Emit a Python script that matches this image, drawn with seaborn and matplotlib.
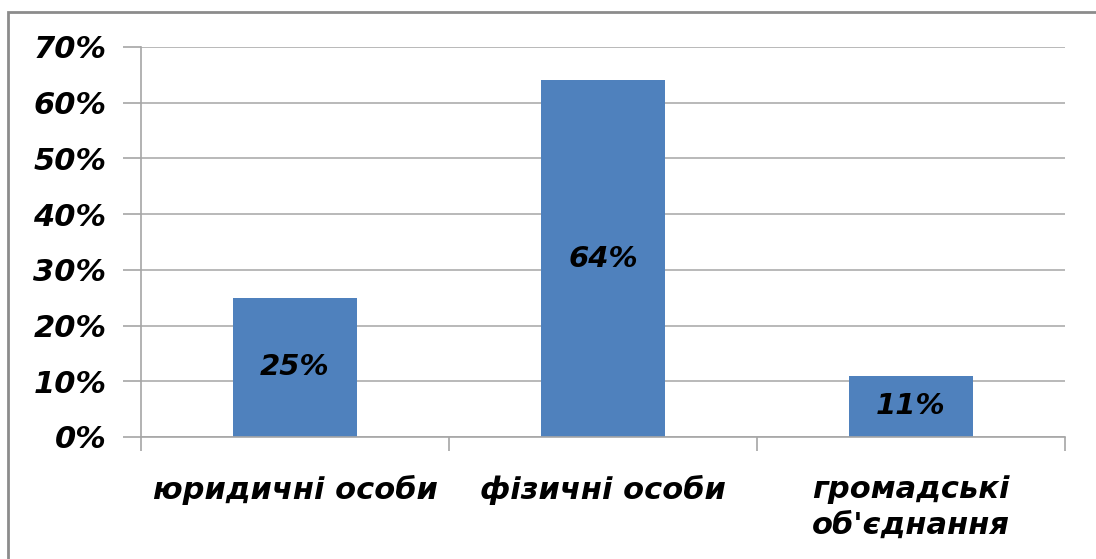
import pandas as pd
import matplotlib
matplotlib.use("Agg")
import matplotlib.pyplot as plt
import seaborn as sns
from matplotlib.ticker import PercentFormatter, MultipleLocator
from matplotlib.patches import Rectangle

# Data
categories = ["юридичні особи", "фізичні особи", "громадські\nоб'єднання"]
shares = [25, 64, 11]
bar_labels = ["25%", "64%", "11%"]

df = pd.DataFrame({"category": categories, "share": shares})

sns.set_theme(style="white")
plt.rcParams['font.family'] = ['DejaVu Sans']
plt.rcParams['text.color'] = 'black'
plt.rcParams['xtick.color'] = 'black'
plt.rcParams['ytick.color'] = 'black'

fig = plt.figure(figsize=(10.96, 5.59), dpi=100)
ax = fig.add_axes([141/1096, 122/559, 924/1096, 390/559])

# outer frame of the chart
fig.patches.append(Rectangle((8/1096, -0.05), 1.2, 1 - 12/559 + 0.05,
                             transform=fig.transFigure, fill=False,
                             edgecolor="#8c8c8c", linewidth=2))

sns.barplot(data=df, x="category", y="share", color="#4f81bd",
            saturation=1, width=0.4, ax=ax, edgecolor="none")

ax.set_ylim(0, 70)
ax.set_xlim(-0.5, 2.5)
ax.yaxis.set_major_locator(MultipleLocator(10))
ax.yaxis.set_major_formatter(PercentFormatter(decimals=0))
ax.grid(axis="y", color="#a6a6a6", linewidth=1.1)
ax.set_axisbelow(True)

for side in ["top", "right"]:
    ax.spines[side].set_visible(False)
for side in ["left", "bottom"]:
    ax.spines[side].set_color("#a6a6a6")
    ax.spines[side].set_linewidth(1.2)

# category boundaries as x ticks
ax.set_xticks([-0.5, 0.5, 1.5, 2.5], minor=False)
ax.set_xticklabels([])
ax.set_xticks(range(len(categories)), minor=True)
ax.set_xticklabels(categories, minor=True, fontsize=22, fontweight="bold",
                   fontstyle="italic", linespacing=1.3, color="black")
ax.tick_params(axis="x", which="major", length=10, width=1.2, color="#a6a6a6",
               bottom=True)
ax.tick_params(axis="x", which="minor", length=0, pad=27)
ax.tick_params(axis="y", length=13, width=1.2, color="#a6a6a6", left=True,
               labelsize=22, pad=12, labelcolor="black")
for lab in ax.get_yticklabels():
    lab.set_fontweight("bold")
    lab.set_fontstyle("italic")

ax.set_xlabel("")
ax.set_ylabel("")

for i, (v, t) in enumerate(zip(shares, bar_labels)):
    ax.text(i, v / 2, t, ha="center", va="center", fontsize=21,
            fontweight="bold", fontstyle="italic", color="black")

fig.savefig("out.png", dpi=100)
